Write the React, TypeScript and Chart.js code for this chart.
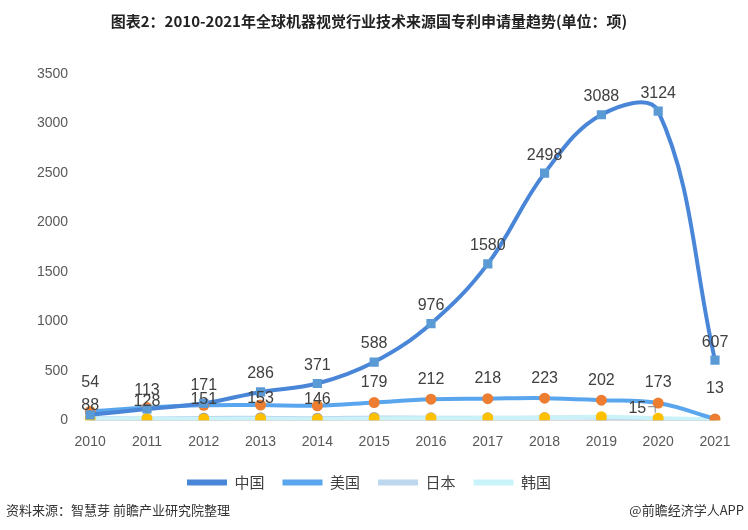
import React, { useEffect, useRef } from "react";
import { Chart, registerables } from "chart.js";
Chart.register(...registerables);

const years = ["2010","2011","2012","2013","2014","2015","2016","2017","2018","2019","2020","2021"];
const china = [54,113,171,286,371,588,976,1580,2498,3088,3124,607];
const usa = [88,128,151,153,146,179,212,218,223,202,173,13];
const japan = [20,18,22,25,20,28,26,24,27,25,15,5];
const korea = [15,14,12,15,10,18,20,22,25,35,20,8];
const yTicks = [0,500,1000,1500,2000,2500,3000,3500];

const FONT = "'Noto Sans CJK SC', 'Noto Sans', sans-serif";
const NUM = "'Liberation Sans', Arial, sans-serif";

const labelPlugin = {
  id: "labels",
  afterDatasetsDraw(chart: any) {
    const ctx = chart.ctx;
    ctx.save();
    ctx.font = `16px ${NUM}`;
    ctx.fillStyle = "#404040";
    ctx.textAlign = "center";
    ctx.textBaseline = "bottom";
    const m0 = chart.getDatasetMeta(0);
    m0.data.forEach((p: any, i: number) => {
      const dy = i === 0 ? 24 : 10;
      ctx.fillText(String(china[i]), p.x, p.y - dy);
    });
    const m1 = chart.getDatasetMeta(1);
    m1.data.forEach((p: any, i: number) => {
      let dy = 12;
      if (i === 0) dy = -2;
      if (i >= 1 && i <= 4) dy = -2;
      if (i === 11) dy = 22;
      ctx.fillText(String(usa[i]), p.x, p.y - dy);
    });
    const m2 = chart.getDatasetMeta(2);
    const p = m2.data[10];
    ctx.textAlign = "right";
    ctx.fillText(String(japan[10]), p.x - 12, p.y - 2);
    ctx.strokeStyle = "#808080";
    ctx.lineWidth = 1;
    ctx.beginPath();
    ctx.moveTo(p.x - 10, p.y - 12);
    ctx.lineTo(p.x - 3, p.y - 12);
    ctx.lineTo(p.x - 3, p.y - 6);
    ctx.stroke();
    ctx.textAlign = "left";
    ctx.textBaseline = "middle";
    ctx.font = `13px ${FONT}`;
    ctx.fillStyle = "#333";
    ctx.fillText("资料来源：智慧芽 前瞻产业研究院整理", 6, 510);
    ctx.textAlign = "right";
    ctx.fillText("@前瞻经济学人APP", 744, 510);
    ctx.restore();
  },
};

function ds(label: string, data: number[], line: string, pt: string, style: string, r: number, order: number) {
  return { label, data, order, borderColor: line, backgroundColor: pt, pointBackgroundColor: pt, pointBorderColor: pt, pointBorderWidth: 0, borderWidth: 4, pointStyle: style, pointRadius: r, tension: 0.38 };
}

export default function App() {
  const ref = useRef<HTMLCanvasElement>(null);
  useEffect(() => {
    const chart = new Chart(ref.current!, {
      type: "line",
      data: {
        labels: years,
        datasets: [
          ds("中国", china, "#4a86d8", "#5b9bd5", "rect", 6.5, 0),
          ds("美国", usa, "#5aa6ee", "#ed7d31", "circle", 5.5, 1),
          ds("日本", japan, "#bdd7ee", "#a5a5a5", "circle", 5.5, 3),
          ds("韩国", korea, "#c9f3f8", "#ffc000", "circle", 5.5, 2),
        ] as any,
      },
      options: {
        animation: false,
        responsive: true,
        maintainAspectRatio: false,
        layout: { padding: { left: 23, right: 33, top: 10, bottom: 30 } },
        plugins: {
          title: { display: true, text: "图表2：2010-2021年全球机器视觉行业技术来源国专利申请量趋势(单位：项)", color: "#222", font: { family: FONT, size: 15, weight: "bold" }, padding: { top: 2, bottom: 44 } },
          legend: {
            position: "bottom",
            labels: {
              font: { family: FONT, size: 15 }, color: "#404040", boxWidth: 40, boxHeight: 6, padding: 18,
              generateLabels: (c: any) => c.data.datasets.map((d: any, i: number) => ({
                text: d.label, fillStyle: d.borderColor, strokeStyle: d.borderColor, lineWidth: 0, datasetIndex: i, fontColor: "#404040",
              })),
            },
          },
          tooltip: { enabled: false },
        },
        scales: {
          x: { grid: { display: false }, border: { color: "#d9d9d9" }, ticks: { color: "#595959", font: { family: NUM, size: 14 }, padding: 6 } },
          y: {
            min: 0, max: 3500, grid: { display: false }, border: { display: false },
            afterBuildTicks: (ax: any) => { ax.ticks = yTicks.map((v) => ({ value: v })); },
            ticks: { color: "#595959", font: { family: NUM, size: 14 }, padding: 14, callback: (v: any) => String(v) },
          },
        },
      },
      plugins: [labelPlugin],
    });
    return () => chart.destroy();
  }, []);
  return (
    <div style={{ position: "fixed", left: 0, top: 0, width: 748, height: 530, background: "#fff" }}>
      <canvas ref={ref} />
    </div>
  );
}
